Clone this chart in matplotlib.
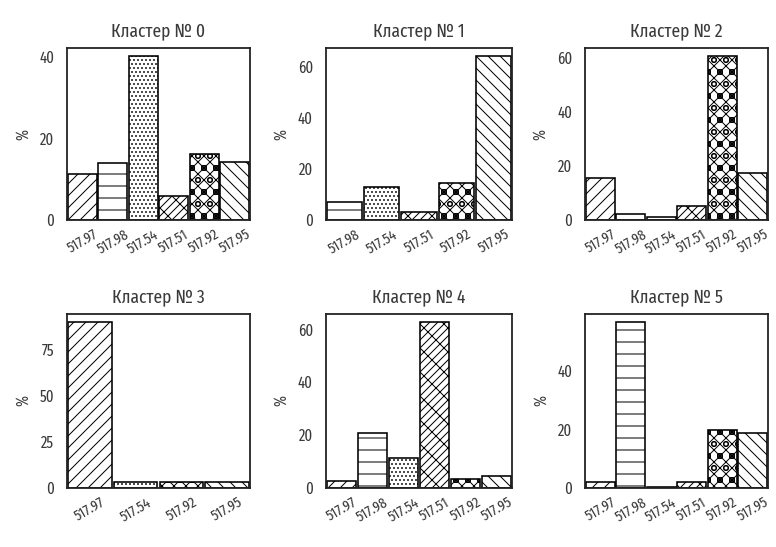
import matplotlib
matplotlib.use("Agg")
import matplotlib.pyplot as plt

plt.rcParams['font.family'] = ['Fira Sans Extra Condensed', 'DejaVu Sans']
plt.rcParams['hatch.linewidth'] = 1.0

# Share (%) of each code within every cluster
cluster_0_codes = ["517.97", "517.98", "517.54", "517.51", "517.92", "517.95"]
cluster_0_share = [11.3, 14.1, 40.2, 5.9, 16.2, 14.2]

cluster_1_codes = ["517.98", "517.54", "517.51", "517.92", "517.95"]
cluster_1_share = [7.2, 13.0, 3.3, 14.5, 64.3]

cluster_2_codes = ["517.97", "517.98", "517.54", "517.51", "517.92", "517.95"]
cluster_2_share = [15.6, 2.1, 1.0, 5.1, 60.4, 17.4]

cluster_3_codes = ["517.97", "517.54", "517.92", "517.95"]
cluster_3_share = [90.0, 3.5, 3.2, 3.5]

cluster_4_codes = ["517.97", "517.98", "517.54", "517.51", "517.92", "517.95"]
cluster_4_share = [2.5, 20.7, 11.3, 62.6, 3.4, 4.6]

cluster_5_codes = ["517.97", "517.98", "517.54", "517.51", "517.92", "517.95"]
cluster_5_share = [2.0, 56.5, 0.3, 2.0, 19.7, 18.9]

clusters = [
    (cluster_0_codes, cluster_0_share),
    (cluster_1_codes, cluster_1_share),
    (cluster_2_codes, cluster_2_share),
    (cluster_3_codes, cluster_3_share),
    (cluster_4_codes, cluster_4_share),
    (cluster_5_codes, cluster_5_share),
]

# one hatch per code, the same across all panels
code_hatch = {
    "517.97": "//",
    "517.98": "-",
    "517.54": "...",
    "517.51": "//x",
    "517.92": "xxo",
    "517.95": "\\\\",
}

W, H = 776, 547
fig = plt.figure(figsize=(W / 72, H / 72), dpi=72)

col_x = [(67, 183), (326, 186), (585, 183)]
row_y = [(48, 172), (314, 174)]

text_color = "#3a3a3a"

for i, (codes, share) in enumerate(clusters):
    r, c = divmod(i, 3)
    x0, w = col_x[c]
    y0, h = row_y[r]
    ax = fig.add_axes([x0 / W, 1 - (y0 + h) / H, w / W, h / H])
    pos = list(range(len(codes)))
    bars = ax.bar(pos, share, width=0.95, color="white", edgecolor="black", linewidth=1.6)
    for b, code in zip(bars, codes):
        b.set_hatch(code_hatch[code])
    ax.set_xlim(-0.5, len(codes) - 0.5)
    ax.set_ylim(0, max(share) * 1.05)
    ax.set_xticks(pos)
    ax.set_xticklabels(codes, rotation=30, ha="center", fontsize=15, color=text_color)
    ax.tick_params(axis="both", length=0, colors=text_color)
    ax.tick_params(axis="x", pad=7)
    ax.tick_params(axis="y", pad=13, labelsize=16)
    ax.set_ylabel("%", fontsize=16, color=text_color, labelpad=8)
    ax.set_title(f"Кластер № {i}", fontsize=19, color=text_color, pad=12)
    for s in ax.spines.values():
        s.set_linewidth(1.8)
        s.set_color("#222222")
    # tick steps that keep the panels readable
    top = max(share)
    if top > 80:
        ax.set_yticks([0, 25, 50, 75])
    elif top < 45:
        ax.set_yticks([0, 20, 40])
    else:
        ax.set_yticks([t for t in (0, 20, 40, 60) if t <= top * 1.05])

fig.savefig("out.png", dpi=72)
